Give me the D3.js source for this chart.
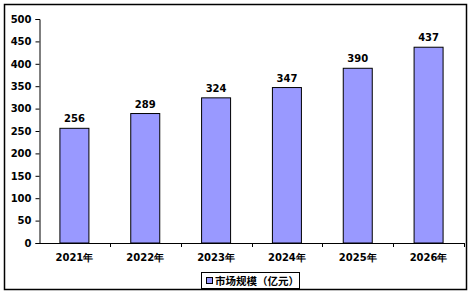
<!DOCTYPE html>
<html>
<head>
<meta charset="utf-8">
<script src="https://cdn.jsdelivr.net/npm/d3@7"></script>
<style>
  body { margin: 0; background: #fff; }
  text { font-family: "DejaVu Sans", Verdana, sans-serif; font-weight: bold; font-size: 10px; fill: #000; }
</style>
</head>
<body>
<div id="chart"></div>
<script>
const years = ["2021年", "2022年", "2023年", "2024年", "2025年", "2026年"];
const marketSize = [256, 289, 324, 347, 390, 437];
const yTicks = [0, 50, 100, 150, 200, 250, 300, 350, 400, 450, 500];
const seriesName = "市场规模（亿元）";

const width = 475, height = 294;

const svg = d3.select("#chart").append("svg")
    .attr("width", width)
    .attr("height", height);

// outer frame
svg.append("rect")
    .attr("x", 4.5).attr("y", 4.5)
    .attr("width", 462).attr("height", 285)
    .attr("fill", "none").attr("stroke", "#000").attr("stroke-width", 1.5);

const x = d3.scaleBand().domain(years).range([39, 464]);
const y = d3.scaleLinear().domain([0, 500]).range([243, 19]);

// bars
svg.selectAll("rect.bar")
    .data(marketSize)
    .enter().append("rect")
    .attr("class", "bar")
    .attr("x", (d, i) => x(years[i]) + x.bandwidth() / 2 - 14.5)
    .attr("y", d => y(d))
    .attr("width", 29)
    .attr("height", d => y(0) - y(d))
    .attr("fill", "#9999FF")
    .attr("stroke", "#000")
    .attr("stroke-width", 1);

// value labels
svg.selectAll("text.val")
    .data(marketSize)
    .enter().append("text")
    .attr("class", "val")
    .attr("x", (d, i) => x(years[i]) + x.bandwidth() / 2)
    .attr("y", d => y(d) - 6)
    .attr("text-anchor", "middle")
    .text(d => d);

// y axis
const yAxis = svg.append("g")
    .attr("transform", "translate(39.5,0)")
    .call(d3.axisLeft(y).tickValues(yTicks).tickSize(4).tickPadding(4));
yAxis.selectAll("path, line").attr("stroke", "#000");
yAxis.selectAll("text").style("font-size", "10px").style("font-family", "DejaVu Sans").style("font-weight", "bold");

// x axis line and ticks at category boundaries
svg.append("line")
    .attr("x1", 39).attr("x2", 464)
    .attr("y1", 243.5).attr("y2", 243.5)
    .attr("stroke", "#000");
svg.selectAll("line.xt")
    .data(years)
    .enter().append("line")
    .attr("class", "xt")
    .attr("x1", d => Math.round(x(d) + x.bandwidth()) + 0.5)
    .attr("x2", d => Math.round(x(d) + x.bandwidth()) + 0.5)
    .attr("y1", 243).attr("y2", 247)
    .attr("stroke", "#000");
svg.selectAll("text.xl")
    .data(years)
    .enter().append("text")
    .attr("class", "xl")
    .attr("x", d => x(d) + x.bandwidth() / 2)
    .attr("y", 261)
    .attr("text-anchor", "middle")
    .text(d => d);

// legend
const lg = svg.append("g");
lg.append("rect")
    .attr("x", 201.5).attr("y", 272.5)
    .attr("width", 98).attr("height", 16)
    .attr("fill", "#fff").attr("stroke", "#000");
lg.append("rect")
    .attr("x", 206.5).attr("y", 277.5)
    .attr("width", 6).attr("height", 6)
    .attr("fill", "#9999FF").attr("stroke", "#000");
lg.append("text")
    .attr("x", 215).attr("y", 284.5)
    .style("font-family", "'Noto Sans CJK SC', sans-serif")
    .style("font-size", "10.5px")
    .text(seriesName);
</script>
</body>
</html>
